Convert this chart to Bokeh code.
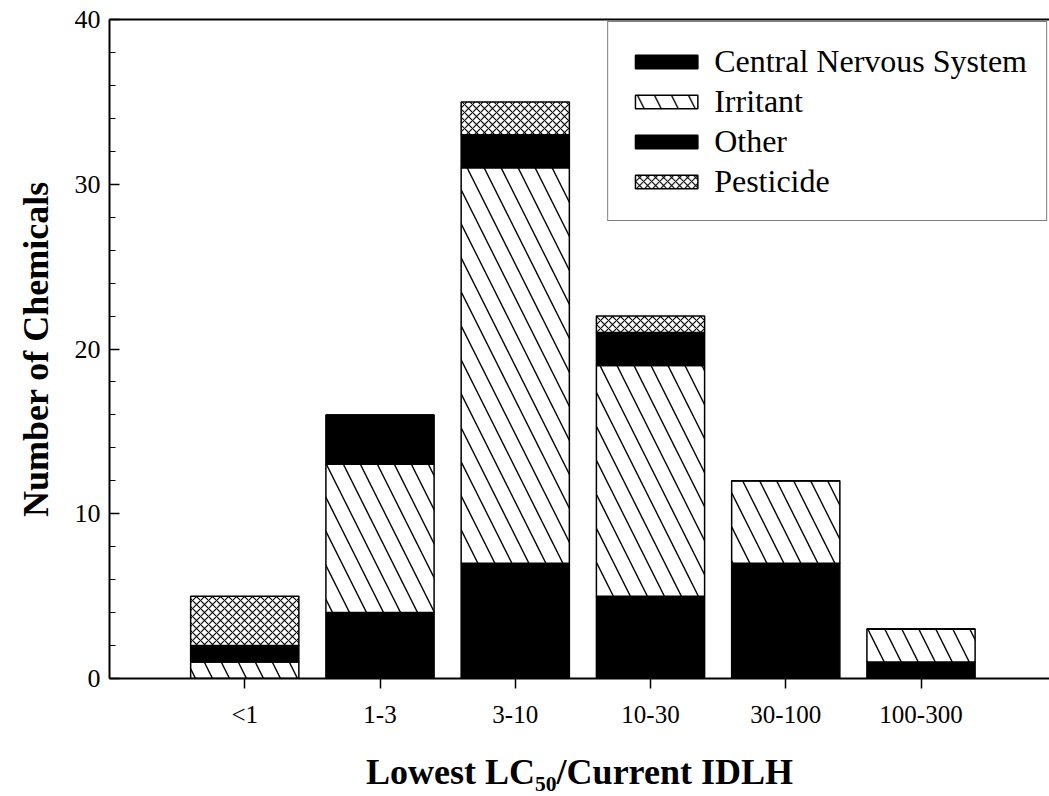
import numpy as np
from bokeh.plotting import figure
from bokeh.models import (ColumnDataSource, Range1d, LinearAxis, SingleIntervalTicker,
                          FixedTicker, Legend, LegendItem)
from bokeh.embed import file_html
from bokeh.resources import INLINE

# ---- data ----
categories = ["<1", "1-3", "3-10", "10-30", "30-100", "100-300"]
cns = [0, 4, 7, 5, 7, 1]          # Central Nervous System
irritant = [1, 9, 24, 14, 5, 2]
other = [1, 3, 2, 2, 0, 0]
pesticide = [3, 0, 2, 1, 0, 0]
series_names = ["Central Nervous System", "Irritant", "Other", "Pesticide"]

# ---- geometry ----
W, H = 1049, 796
LEFT, TOP, BOTTOM = 109, 19, 118
X0, X1 = 0.0, 6.95
Y0, Y1 = 0.0, 40.0

xpos = list(range(1, len(categories) + 1))
source = ColumnDataSource(dict(x=xpos, cns=cns, irritant=irritant, other=other, pesticide=pesticide))

p = figure(width=W, height=H, x_range=Range1d(X0, X1), y_range=Range1d(Y0, Y1),
           output_backend="svg", toolbar_location=None,
           min_border_left=LEFT, min_border_right=0, min_border_top=TOP, min_border_bottom=BOTTOM)
p.outline_line_color = None
p.xgrid.visible = False
p.ygrid.visible = False
p.background_fill_color = "white"
p.border_fill_color = "white"

renderers = p.vbar_stack(["cns", "irritant", "other", "pesticide"], x="x", width=0.8, source=source,
                         fill_color=["black", "white", "black", "white"],
                         line_color="black", line_width=1.5,
                         hatch_pattern=[" ", "\\", " ", "x"],
                         hatch_color="black",
                         hatch_weight=[1, 1.4, 1, 1.1],
                         hatch_scale=[12, 34, 12, 8])

legend = Legend(items=[LegendItem(label=n, renderers=[r]) for n, r in zip(series_names, renderers)],
                location="top_right")
legend.label_text_font = "Liberation Serif"
legend.label_text_font_size = "32px"
legend.label_text_color = "black"
legend.glyph_width = 78
legend.glyph_height = 17
legend.label_standoff = 9
legend.label_height = 40
legend.padding = 19
legend.spacing = 0
legend.margin = 2
legend.border_line_color = "black"
legend.border_line_width = 1.5
legend.background_fill_alpha = 1.0
p.add_layout(legend)

# y axis
ya = p.yaxis[0]
ya.ticker = SingleIntervalTicker(interval=10, num_minor_ticks=5)
ya.axis_line_width = 2
ya.major_tick_in = 10
ya.major_tick_out = 0
ya.minor_tick_in = 6
ya.minor_tick_out = 0
ya.major_tick_line_width = 1.5
ya.minor_tick_line_width = 1.2
ya.major_label_text_font = "Liberation Serif"
ya.major_label_text_font_size = "26px"
ya.major_label_text_color = "black"
ya.major_label_standoff = 9
ya.axis_label = "Number of Chemicals"
ya.axis_label_text_font = "Liberation Serif"
ya.axis_label_text_font_style = "bold"
ya.axis_label_text_font_size = "36px"
ya.axis_label_text_color = "black"
ya.axis_label_standoff = 16

# x axis
xa = p.xaxis[0]
xa.ticker = FixedTicker(ticks=xpos)
xa.major_label_overrides = {i: c for i, c in zip(xpos, categories)}
xa.axis_line_width = 2
xa.major_tick_in = 0
xa.major_tick_out = 10
xa.major_tick_line_width = 1.5
xa.minor_tick_line_color = None
xa.major_label_text_font = "Liberation Serif"
xa.major_label_text_font_size = "25px"
xa.major_label_text_color = "black"
xa.major_label_standoff = 12
xa.axis_label = "Lowest LC\u2085\u2080/Current IDLH"
xa.axis_label_text_font = "Liberation Serif"
xa.axis_label_text_font_style = "bold"
xa.axis_label_text_font_size = "36px"
xa.axis_label_text_color = "black"
xa.axis_label_standoff = 21

# top frame line
top_axis = LinearAxis(axis_line_width=2, major_tick_line_color=None, minor_tick_line_color=None,
                      major_label_text_font_size="0px", major_label_text_alpha=0)
p.add_layout(top_axis, "above")

open("out.html", "w").write(file_html(p, INLINE))
